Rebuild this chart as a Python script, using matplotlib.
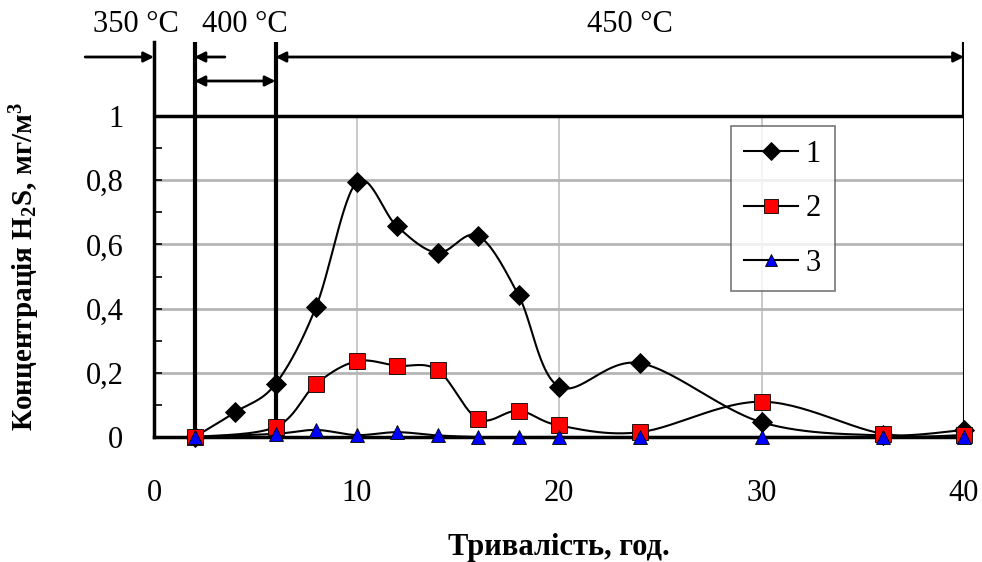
import numpy as np
import matplotlib
matplotlib.use('Agg')
import matplotlib.pyplot as plt
from matplotlib.ticker import FuncFormatter, FixedLocator

plt.rcParams['font.family'] = ['Liberation Serif', 'DejaVu Serif']
plt.rcParams['mathtext.fontset'] = 'custom'
plt.rcParams['mathtext.rm'] = 'Liberation Serif:bold'
plt.rcParams['mathtext.it'] = 'Liberation Serif:bold'
plt.rcParams['mathtext.bf'] = 'Liberation Serif:bold'

# data
x1 = [2, 4, 6, 8, 10, 12, 14, 16, 18, 20, 24, 30, 36, 40]
y1 = [0.0, 0.077, 0.165, 0.405, 0.793, 0.656, 0.574, 0.627, 0.442, 0.157, 0.23, 0.046, 0.005, 0.022]
x2 = [2, 6, 8, 10, 12, 14, 16, 18, 20, 24, 30, 36, 40]
y2 = [0.0, 0.031, 0.165, 0.236, 0.222, 0.209, 0.056, 0.082, 0.036, 0.015, 0.11, 0.01, 0.006]
x3 = [2, 6, 8, 10, 12, 14, 16, 18, 20, 24, 30, 36, 40]
y3 = [0.0, 0.01, 0.022, 0.006, 0.015, 0.005, 0.0, 0.0, 0.0, 0.0, 0.0, 0.0, 0.0]
labels = ['1', '2', '3']
zones = ['350 °C', '400 °C', '450 °C']


def smooth(x, y, sx=20.25, sy=321.0, n=30):
    # Excel-like smoothed line (bezier through points)
    p = np.column_stack([np.array(x, float) * sx, np.array(y, float) * sy])
    out = [p[0]]
    for i in range(len(p) - 1):
        p0 = p[i - 1] if i > 0 else p[i]
        p1, p2 = p[i], p[i + 1]
        p3 = p[i + 2] if i + 2 < len(p) else p[i + 1]
        c1 = p1 + (p2 - p0) / 6
        c2 = p2 - (p3 - p1) / 6
        t = np.linspace(0, 1, n)[1:, None]
        seg = (1 - t) ** 3 * p1 + 3 * (1 - t) ** 2 * t * c1 + 3 * (1 - t) * t ** 2 * c2 + t ** 3 * p2
        out.extend(seg)
    out = np.array(out)
    return out[:, 0] / sx, out[:, 1] / sy


fig = plt.figure(figsize=(9.82, 5.62), dpi=100)
ax = fig.add_axes([154 / 982, 1 - 437 / 562, 810 / 982, 395 / 562])
top = 395 / 321
ax.set_xlim(0, 40)
ax.set_ylim(0, top)

ax.spines['top'].set_visible(False)
ax.spines['right'].set_visible(False)
ax.spines['left'].set_linewidth(2.5)
ax.spines['bottom'].set_linewidth(2.5)

for gx in [10, 20, 30]:
    ax.plot([gx, gx], [0, 1], color='#c0c0c0', lw=1.2, zorder=1)
for gy in [0.2, 0.4, 0.6, 0.8]:
    ax.plot([0, 40], [gy, gy], color='#b5b5b5', lw=2, zorder=1)

ax.plot([0, 40], [1, 1], color='black', lw=2.5, zorder=2)
ax.plot([40, 40], [0, 1], color='black', lw=1.5, zorder=2)
ax.plot([40, 40], [1, top], color='black', lw=3, zorder=2)
for vx in [2, 6]:
    ax.plot([vx, vx], [0, top], color='black', lw=3, zorder=2)

# temperature zone arrows
ya = (437 - 57) / 321
yb = (437 - 81) / 321
ak = dict(arrowstyle='-|>', color='black', lw=2, mutation_scale=15, shrinkA=0, shrinkB=0)
ax.annotate('', xy=(0, ya), xytext=(-3.4, ya), arrowprops=ak, annotation_clip=False)
ax.annotate('', xy=(2, ya), xytext=(3.5, ya), arrowprops=ak, annotation_clip=False)
ak2 = dict(ak, arrowstyle='<|-|>')
ax.annotate('', xy=(6, yb), xytext=(2, yb), arrowprops=ak2, annotation_clip=False)
ax.annotate('', xy=(40, ya), xytext=(6, ya), arrowprops=ak2, annotation_clip=False)

yt = (437 - 25) / 321
for zx, zt in zip([-0.9, 4.5, 23.5], zones):
    ax.text(zx, yt, zt, ha='center', va='center', fontsize=22, clip_on=False)

# series
for xs, ys, mk, fc, ms, lab in [(x1, y1, 'D', 'black', 10.5, labels[0]),
                                (x2, y2, 's', 'red', 12, labels[1]),
                                (x3, y3, '^', 'blue', 10, labels[2])]:
    sx, sy = smooth(xs, ys)
    ax.plot(sx, sy, color='black', lw=1.5, zorder=3, clip_on=False)
    ax.plot(xs, ys, linestyle='none', marker=mk, markerfacecolor=fc,
            markeredgecolor='black', markeredgewidth=0.6, markersize=ms, zorder=4, clip_on=False)
    ax.plot([], [], color='black', lw=1.5, marker=mk, markerfacecolor=fc,
            markeredgecolor='black', markeredgewidth=0.6, markersize=ms * 0.85, label=lab)

leg = ax.legend(loc='upper left', bbox_to_anchor=(0.712, 0.787), fontsize=22,
                frameon=True, fancybox=False, edgecolor='#555555', handlelength=1.75,
                labelspacing=0.83, borderpad=0.45, handletextpad=0.25, borderaxespad=0)
leg.get_frame().set_linewidth(1.2)
leg.set_zorder(5)

ax.set_yticks([0, 0.2, 0.4, 0.6, 0.8, 1.0])
ax.yaxis.set_minor_locator(FixedLocator([0.1, 0.3, 0.5, 0.7, 0.9]))
ax.set_xticks([0, 10, 20, 30, 40])
ax.yaxis.set_major_formatter(FuncFormatter(lambda v, p: ('%g' % round(v, 1)).replace('.', ',')))
ax.tick_params(axis='y', which='both', direction='in', length=6, width=1.2, labelsize=22, pad=22)
ax.tick_params(axis='x', length=0, labelsize=22, pad=30)
ax.set_ylim(0, top)

fig.text(25 / 982, 1 - 266 / 562, 'Концентрація H$_2$S, мг/м$^3$', rotation=90,
         ha='center', va='center', fontsize=21, fontweight='bold')
fig.text(559 / 982, 1 - 548 / 562, 'Тривалість, год.', ha='center', va='center',
         fontsize=22, fontweight='bold')

fig.savefig('out.png', dpi=100)
